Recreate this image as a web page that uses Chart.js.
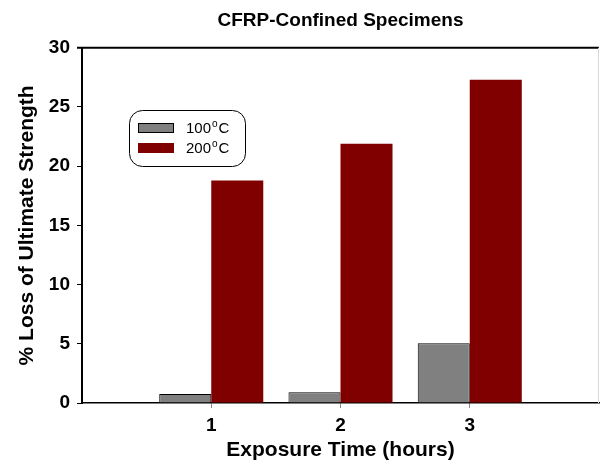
<!DOCTYPE html>
<html>
<head>
<meta charset="utf-8">
<script src="https://cdn.jsdelivr.net/npm/chart.js@4"></script>
<style>
  html, body { margin: 0; padding: 0; background: #fff; }
  #wrap { width: 600px; height: 467px; }
</style>
</head>
<body>
<div id="wrap"><canvas id="chart"></canvas></div>
<script>
// empty slots at both ends so the axis runs 0..4 with ticks only at 1, 2, 3
const hours = ['', '1', '2', '3', ''];
const loss100 = [null, 0.75, 0.9, 5.05, null];
const loss200 = [null, 18.8, 21.9, 27.3, null];
const seriesLabels = ['100°C', '200°C'];

const FONT = '"Liberation Sans", Arial, sans-serif';

// frame (top + right edges) and the rounded legend box
const frameAndLegend = {
  id: 'frameAndLegend',
  afterDraw(chart) {
    const { ctx, chartArea: a } = chart;
    ctx.save();
    ctx.strokeStyle = '#000';
    ctx.lineWidth = 2;
    ctx.beginPath();
    ctx.moveTo(a.left - 5, a.top);
    ctx.lineTo(a.right, a.top);
    ctx.stroke();
    ctx.strokeStyle = '#d8d8d8';
    ctx.lineWidth = 1;
    ctx.beginPath();
    ctx.moveTo(a.right - 0.5, a.top);
    ctx.lineTo(a.right - 0.5, a.bottom);
    ctx.stroke();

    const bx = a.left + 47.5, by = 110.5;
    ctx.beginPath();
    ctx.roundRect(bx, by, 116, 56, 13);
    ctx.fillStyle = '#fff';
    ctx.fill();
    ctx.strokeStyle = '#000';
    ctx.lineWidth = 1;
    ctx.stroke();

    chart.data.datasets.forEach((ds, i) => {
      const y = 123 + i * 20;
      ctx.fillStyle = ds.backgroundColor;
      ctx.fillRect(bx + 8.5, y, 36, 10);
      if (ds.borderWidth) {
        ctx.strokeStyle = ds.borderColor;
        ctx.strokeRect(bx + 9, y + 0.5, 35, 9);
      }
      const [num, unit] = ds.label.split('°');
      ctx.fillStyle = '#000';
      ctx.textBaseline = 'alphabetic';
      ctx.font = '15px ' + FONT;
      ctx.fillText(num, bx + 56.5, y + 10);
      const w = ctx.measureText(num).width;
      ctx.font = '10px ' + FONT;
      ctx.fillText('o', bx + 56.5 + w + 1, y + 4);
      const wo = ctx.measureText('o').width;
      ctx.font = '15px ' + FONT;
      ctx.fillText(unit, bx + 56.5 + w + wo + 2, y + 10);
    });
    ctx.restore();
  }
};

new Chart(document.getElementById('chart'), {
  type: 'bar',
  data: {
    labels: hours,
    datasets: [
      {
        label: seriesLabels[0],
        data: loss100,
        backgroundColor: '#808080',
        borderColor: '#000',
        borderWidth: 1,
        borderSkipped: 'bottom',
      },
      {
        label: seriesLabels[1],
        data: loss200,
        backgroundColor: '#800000',
        borderWidth: 0,
      }
    ]
  },
  options: {
    responsive: true,
    maintainAspectRatio: false,
    animation: false,
    categoryPercentage: 0.805,
    barPercentage: 1,
    layout: { padding: { right: 1 } },
    plugins: {
      legend: { display: false },
      tooltip: { enabled: false },
      title: {
        display: true,
        fullSize: false,
        text: 'CFRP-Confined Specimens',
        color: '#000',
        font: { family: FONT, size: 19, weight: 'bold' },
        padding: { top: 9, bottom: 16 },
      }
    },
    scales: {
      x: {
        offset: false,
        border: { color: '#000', width: 1.5 },
        grid: {
          offset: false,
          drawOnChartArea: false,
          tickLength: 5,
          tickColor: (c) => (c.index === 0 || c.index === hours.length - 1) ? 'rgba(0,0,0,0)' : '#888',
        },
        ticks: {
          color: '#000',
          padding: 6,
          maxRotation: 0,
          autoSkip: false,
          font: { family: FONT, size: 19, weight: 'bold' },
        },
        title: {
          display: true,
          text: 'Exposure Time (hours)',
          color: '#000',
          font: { family: FONT, size: 21, weight: 'bold' },
          padding: { top: 0, bottom: 4 },
        },
        afterFit: (s) => { s.height = 64; s.paddingLeft = 0; s.paddingRight = 0; },
      },
      y: {
        min: 0,
        max: 30,
        border: { color: '#000', width: 2 },
        grid: { drawOnChartArea: false, tickLength: 5, tickColor: '#000' },
        ticks: {
          stepSize: 5,
          color: '#000',
          padding: 7,
          font: { family: FONT, size: 19, weight: 'bold' },
        },
        title: {
          display: true,
          text: '% Loss of Ultimate Strength',
          color: '#000',
          font: { family: FONT, size: 21, weight: 'bold' },
          padding: { top: 15, bottom: 0 },
        },
        afterFit: (s) => { s.width = 82; },
      }
    }
  },
  plugins: [frameAndLegend]
});
</script>
</body>
</html>
